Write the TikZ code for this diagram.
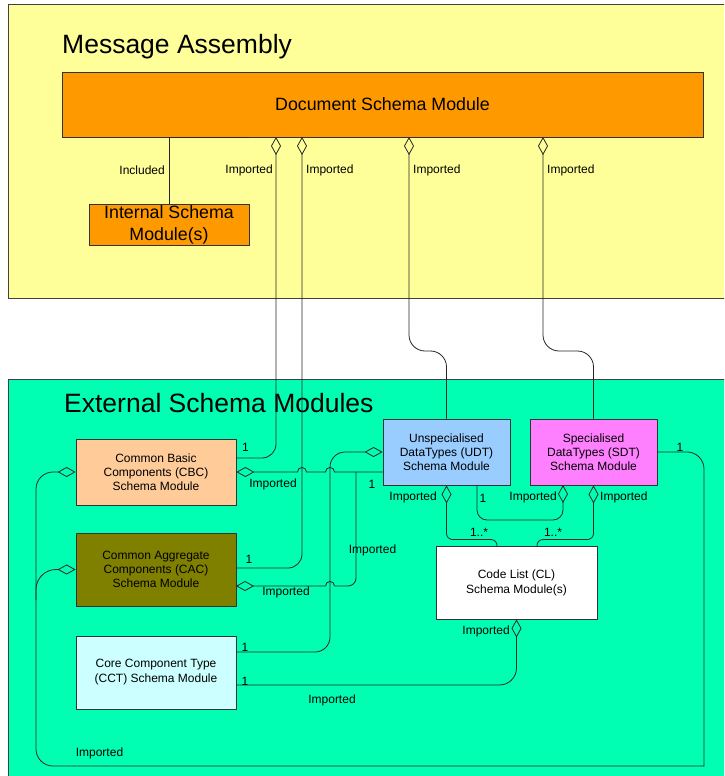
\documentclass[tikz,border=0pt]{standalone}
\usepackage{fontspec}
\setmainfont{Liberation Sans}
\usetikzlibrary{arrows.meta}
\definecolor{panelY}{HTML}{FFFF99}
\definecolor{panelG}{HTML}{00FFB3}
\definecolor{orng}{HTML}{FF9900}
\definecolor{peach}{HTML}{FFCC99}
\definecolor{oliveD}{HTML}{808000}
\definecolor{cyanL}{HTML}{CCFFFF}
\definecolor{blueL}{HTML}{99CCFF}
\definecolor{pinkL}{HTML}{FF80FF}
\tikzset{
  panelline/.style={draw=black!75, line width=0.9pt},
  box/.style={draw=black!80, line width=0.8pt, inner sep=0pt, align=center, font=\fontsize{12}{14}\selectfont},
  conn/.style={draw=black!85, line width=0.8pt},
  dia/.style={-{Diamond[open,length=18pt,width=10pt,line width=0.8pt]}},
  lbl/.style={font=\fontsize{12}{14}\selectfont, inner sep=0pt},
  ttl/.style={font=\fontsize{26.5}{30}\selectfont, inner sep=0pt, anchor=base west},
}
\begin{document}
\begin{tikzpicture}[x=1pt,y=-1pt]
\useasboundingbox (0,0) rectangle (724,776);
\clip (0,0) rectangle (724,776);
\fill[white] (0,0) rectangle (724,776);
% panels
\fill[panelY] (8,4) rectangle (730,298);
\draw[panelline] (730,4) -- (8,4) -- (8,298) -- (730,298);
\fill[panelG] (8,379) rectangle (730,790);
\draw[panelline] (730,379) -- (8,379) -- (8,790);
\node[ttl] (ttlA) at (62,53) {Message Assembly};
\node[ttl] (ttlB) at (64,412) {External Schema Modules};
% boxes
\node[box, fill=orng, minimum width=641pt, minimum height=65pt, font=\fontsize{17.8}{21}\selectfont] (doc) at (382.5,104.5) {Document Schema Module};
\node[box, fill=orng, minimum width=160pt, minimum height=41pt, font=\fontsize{17.8}{22}\selectfont] (int) at (169,224.5) {Internal Schema\\Module(s)};
\node[box, fill=peach, minimum width=160pt, minimum height=66pt] (cbc) at (156,472) {Common Basic\\Components (CBC)\\Schema Module};
\node[box, fill=oliveD, minimum width=160pt, minimum height=73pt] (cac) at (156,569.5) {Common Aggregate\\Components (CAC)\\Schema Module};
\node[box, fill=cyanL, minimum width=160pt, minimum height=73pt, font=\fontsize{12}{15}\selectfont] (cct) at (156,672.5) {Core Component Type\\(CCT) Schema Module};
\node[box, fill=blueL, minimum width=127pt, minimum height=66pt] (udt) at (446.5,452) {Unspecialised\\DataTypes (UDT)\\Schema Module};
\node[box, fill=pinkL, minimum width=127pt, minimum height=66pt] (sdt) at (593.5,452) {Specialised\\DataTypes (SDT)\\Schema Module};
\node[box, fill=white, minimum width=161pt, minimum height=73pt, font=\fontsize{12}{15}\selectfont] (cl) at (516.5,582.5) {Code List (CL)\\Schema Module(s)};
% coordinates
\coordinate (dA) at (276,137);
\coordinate (dB) at (302,137);
\coordinate (dC) at (409,137);
\coordinate (dD) at (543,137);
\coordinate (cbcA) at (236,458);
\coordinate (cacA) at (236,568);
\coordinate (cacI) at (236,586);
\coordinate (jn) at (356,472);
\coordinate (cctA) at (236,652);
\coordinate (cctB) at (236,685);
\coordinate (clA) at (497,546);
\coordinate (clB) at (537,546);
\coordinate (udtB) at (477,485);
\coordinate (sdtA) at (563,485);
\coordinate (loopBR) at (704,766);
\coordinate (loopL) at (36,600);
% included
\draw[conn] (int.north) -- (int.north |- doc.south) -- (int.north east |- doc.south);
% doc imports
\draw[conn, dia, rounded corners=14] (cbcA) -| (dA);
\draw[conn, dia, rounded corners=14] (cacA) -| (dB);
\draw[conn, dia, rounded corners=16] (udt.north) |- (409,351) -- (dC);
\draw[conn, dia, rounded corners=16] (sdt.north) |- (543,351) -- (dD);
% CBC -> UDT with hops
\draw[conn, dia] (udt.west |- cbc.east) -- (334.5,472) .. controls (334.5,466) and (325.5,466) .. (325.5,472) -- (306.5,472) .. controls (306.5,466) and (297.5,466) .. (297.5,472) -- (cbc.east);
% CAC -> UDT
\draw[conn, rounded corners=8] (jn) -- (356,586) -- (334.5,586);
\draw[conn, dia] (334.5,586) .. controls (334.5,580) and (325.5,580) .. (325.5,586) -- (cacI);
% CCT -> UDT, CCT -> CL
\draw[conn, dia, rounded corners=15] (cctA) -| (330,452) -- (udt.west);
\draw[conn, dia, rounded corners=17] (cctB) -| (cl.south);
% UDT/SDT -> CL
\draw[conn, dia, rounded corners=6] (clA) -- (497,539.5) -| (udt.south);
\draw[conn, dia, rounded corners=6] (clB) -- (537,539.5) -| (sdt.south);
\draw[conn, dia, rounded corners=10] (udtB) -- (477,520) -| (sdtA);
% loop SDT -> CBC, CAC
\draw[conn, line cap=rect, rounded corners=17] (sdt.east) -| (loopBR);
\draw[conn, dia, rounded corners=17] (loopBR) -- (36,766) |- (cbc.west);
\draw[conn, dia, rounded corners=20] (loopL) |- (cac.west);
% labels yellow
\node[lbl, anchor=east] (lInc) at (165,170) {Included};
\node[lbl, anchor=east] (lI1) at (273,170) {Imported};
\node[lbl, anchor=west] (lI2) at (306,170) {Imported};
\node[lbl, anchor=west] (lI3) at (413,170) {Imported};
\node[lbl, anchor=west] (lI4) at (547,170) {Imported};
% labels green
\node[lbl] (m1) at (245.5,447) {1};
\node[lbl] (g1) at (273,484) {Imported};
\node[lbl] (m2) at (249,559) {1};
\node[lbl] (g2) at (286,592) {Imported};
\node[lbl] (g3) at (372.5,550) {Imported};
\node[lbl] (m3) at (372,484) {1};
\node[lbl, anchor=east] (g4) at (437,497) {Imported};
\node[lbl] (m4) at (483,498) {1};
\node[lbl, anchor=east] (g5) at (557,497) {Imported};
\node[lbl, anchor=west] (g6) at (600,497) {Imported};
\node[lbl] (m5) at (479,532) {1..*};
\node[lbl] (m6) at (553,532) {1..*};
\node[lbl] (m7) at (680,447) {1};
\node[lbl, anchor=east] (g7) at (510,631) {Imported};
\node[lbl] (m8) at (245,647) {1};
\node[lbl] (m9) at (245,681) {1};
\node[lbl] (g8) at (332,700) {Imported};
\node[lbl] (g9) at (99.5,753) {Imported};
\end{tikzpicture}
\end{document}
